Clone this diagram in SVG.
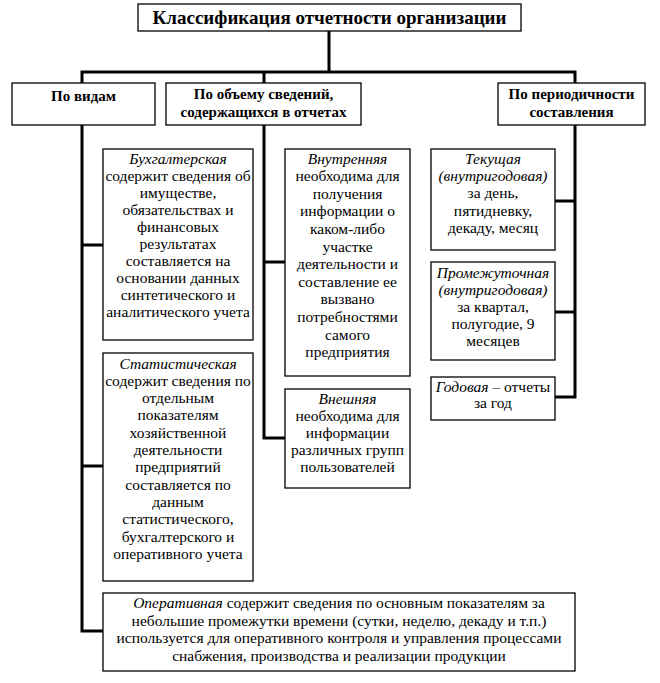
<svg xmlns="http://www.w3.org/2000/svg" width="660" height="683" viewBox="0 0 660 683">
<style>
.box{fill:#fff;stroke:#000;stroke-width:1.3}
.con{fill:none;stroke:#000;stroke-width:3;stroke-linecap:square}
.txt text{text-anchor:middle;fill:#000}
.t{font-size:19px;font-weight:bold}
.h{font-size:15px;font-weight:bold}
.b{font-size:15.5px}
.i{font-style:italic}
</style>
<rect width="660" height="683" fill="#fff"/>
<g id="connectors">
<path class="con" d="M329,31 V72 M82,72 H575 M82,72 V83 M264,72 V83 M575,72 V83"/>
<path class="con" d="M82,125 V631 H103 M82,245 H103 M82,466 H103"/>
<path class="con" d="M264,125 V438 H285 M264,262 H285"/>
<path class="con" d="M575,125 V397 H555 M575,201 H555 M575,312 H555"/>
</g>
<g class="txt" font-family="Liberation Serif, Tinos, DejaVu Serif, serif">
<g id="title">
<rect class="box" x="138" y="4" width="383" height="27"/>
<text class="t" x="329.5" y="23.5">Классификация отчетности организации</text>
</g>
<g id="po-vidam">
<rect class="box" x="12" y="83" width="143" height="42"/>
<text class="h" x="83.5" y="100.5">По видам</text>
</g>
<g id="po-obemu">
<rect class="box" x="166" y="83" width="195" height="42"/>
<text class="h" x="263.5" y="98.5">По объему сведений,</text>
<text class="h" x="263.5" y="116.5">содержащихся в отчетах</text>
</g>
<g id="po-periodichnosti">
<rect class="box" x="498" y="83" width="147" height="42"/>
<text class="h" x="571.5" y="98.5">По периодичности</text>
<text class="h" x="571.5" y="116.5">составления</text>
</g>
<g id="buhgalterskaya">
<rect class="box" x="103" y="149" width="150" height="191"/>
<text class="b" x="178" y="163.5"><tspan class="i">Бухгалтерская</tspan><tspan x="178" dy="17.1">содержит сведения об</tspan><tspan x="178" dy="17.1">имуществе,</tspan><tspan x="178" dy="17.1">обязательствах и</tspan><tspan x="178" dy="17.1">финансовых</tspan><tspan x="178" dy="17.1">результатах</tspan><tspan x="178" dy="17.1">составляется на</tspan><tspan x="178" dy="17.1">основании данных</tspan><tspan x="178" dy="17.1">синтетического и</tspan><tspan x="178" dy="17.1">аналитического учета</tspan></text>
</g>
<g id="statisticheskaya">
<rect class="box" x="103" y="353" width="150" height="228"/>
<text class="b" x="178" y="368.5"><tspan class="i">Статистическая</tspan><tspan x="178" dy="17.3">содержит сведения по</tspan><tspan x="178" dy="17.3">отдельным</tspan><tspan x="178" dy="17.3">показателям</tspan><tspan x="178" dy="17.3">хозяйственной</tspan><tspan x="178" dy="17.3">деятельности</tspan><tspan x="178" dy="17.3">предприятий</tspan><tspan x="178" dy="17.3">составляется по</tspan><tspan x="178" dy="17.3">данным</tspan><tspan x="178" dy="17.3">статистического,</tspan><tspan x="178" dy="17.3">бухгалтерского и</tspan><tspan x="178" dy="17.3">оперативного учета</tspan></text>
</g>
<g id="vnutrennyaya">
<rect class="box" x="285" y="149" width="125" height="227"/>
<text class="b" x="347.5" y="163.5"><tspan class="i">Внутренняя</tspan><tspan x="347.5" dy="17.6">необходима для</tspan><tspan x="347.5" dy="17.6">получения</tspan><tspan x="347.5" dy="17.6">информации о</tspan><tspan x="347.5" dy="17.6">каком-либо</tspan><tspan x="347.5" dy="17.6">участке</tspan><tspan x="347.5" dy="17.6">деятельности и</tspan><tspan x="347.5" dy="17.6">составление ее</tspan><tspan x="347.5" dy="17.6">вызвано</tspan><tspan x="347.5" dy="17.6">потребностями</tspan><tspan x="347.5" dy="17.6">самого</tspan><tspan x="347.5" dy="17.6">предприятия</tspan></text>
</g>
<g id="vneshnyaya">
<rect class="box" x="285" y="389" width="125" height="99"/>
<text class="b" x="347.5" y="404"><tspan class="i">Внешняя</tspan><tspan x="347.5" dy="17">необходима для</tspan><tspan x="347.5" dy="17">информации</tspan><tspan x="347.5" dy="17">различных групп</tspan><tspan x="347.5" dy="17">пользователей</tspan></text>
</g>
<g id="tekuschaya">
<rect class="box" x="431" y="149" width="124" height="101"/>
<text class="b" x="493" y="164"><tspan class="i">Текущая</tspan><tspan class="i" x="493" dy="17.2">(внутригодовая)</tspan><tspan x="493" dy="17.2">за день,</tspan><tspan x="493" dy="17.2">пятидневку,</tspan><tspan x="493" dy="17.2">декаду, месяц</tspan></text>
</g>
<g id="promezhutochnaya">
<rect class="box" x="431" y="262" width="124" height="98"/>
<text class="b" x="493" y="277.5"><tspan class="i">Промежуточная</tspan><tspan class="i" x="493" dy="17">(внутригодовая)</tspan><tspan x="493" dy="17">за квартал,</tspan><tspan x="493" dy="17">полугодие, 9</tspan><tspan x="493" dy="17">месяцев</tspan></text>
</g>
<g id="godovaya">
<rect class="box" x="431" y="377" width="124" height="43"/>
<text class="b" x="493" y="391.5"><tspan class="i">Годовая</tspan> – отчеты<tspan x="493" dy="16.5">за год</tspan></text>
</g>
<g id="operativnaya">
<rect class="box" x="103" y="593" width="472" height="78"/>
<text class="b" x="339" y="608"><tspan class="i">Оперативная</tspan> содержит сведения по основным показателям за<tspan x="339" dy="17.5">небольшие промежутки времени (сутки, неделю, декаду и т.п.)</tspan><tspan x="339" dy="17.5">используется для оперативного контроля и управления процессами</tspan><tspan x="339" dy="17.5">снабжения, производства и реализации продукции</tspan></text>
</g>
</g>
</svg>
